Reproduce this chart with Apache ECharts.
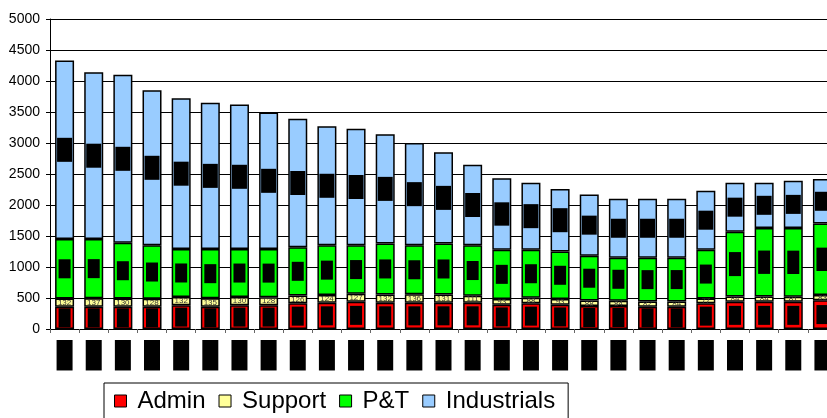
<!DOCTYPE html>
<html>
<head>
<meta charset="utf-8">
<script src="https://cdn.jsdelivr.net/npm/echarts@6/dist/echarts.min.js"></script>
<style>
html,body{margin:0;padding:0;background:#fff;overflow:hidden;}
#c{width:827px;height:418px;}
</style>
</head>
<body>
<div id="c"></div>
<script>
var categories = ['1980','1981','1982','1983','1984','1985','1986','1987','1988','1989','1990','1991','1992','1993','1994','1995','1996','1997','1998','1999','2000','2001','2002','2003','2004','2005','2006'];
var admin = [360,360,360,360,385,360,385,385,415,425,440,425,425,425,425,390,415,390,370,370,360,360,415,440,440,440,465];
var support = [132,137,130,128,132,135,130,128,126,124,127,132,136,131,111,93,88,93,88,84,82,84,77,84,84,81,83];
var pt = [958,953,900,862,773,795,775,777,779,801,783,823,789,824,814,797,777,767,722,696,708,706,788,1046,1106,1109,1152];
var industrials = [2880,2690,2710,2500,2430,2360,2330,2200,2070,1920,1880,1760,1650,1470,1300,1150,1080,1010,990,950,950,950,950,790,730,760,720];
var seriesNames = ['Admin','Support','P&T','Industrials'];
var seriesColors = ['#FF0000','#FFFF99','#00FF00','#99CCFF'];

var chart = echarts.init(document.getElementById('c'), null, {renderer:'canvas'});

function blackLabel(lh, pad) {
  return {
    show: true, position: 'inside', rotate: 90,
    fontFamily: 'Liberation Sans, Arial, sans-serif', fontSize: 9, lineHeight: lh,
    color: '#000', backgroundColor: '#000', padding: pad,
    formatter: function (p) { return String(p.value); }
  };
}

var dataSets = [admin, support, pt, industrials];
var labels = [
  blackLabel(10, [1, 2]),
  { show: true, position: 'inside', fontFamily: 'Liberation Sans, Arial, sans-serif', fontSize: 8, color: '#333', formatter: function (p) { return String(p.value); } },
  blackLabel(10, [1, 2]),
  blackLabel(11, [2, 2])
];

var series = seriesNames.map(function (n, i) {
  return {
    name: n, type: 'bar', stack: 'total', barWidth: 19,
    data: dataSets[i],
    itemStyle: { color: seriesColors[i], borderColor: '#000', borderWidth: 1.5 },
    label: labels[i],
    emphasis: { disabled: true },
    animation: false
  };
});

chart.setOption({
  animation: false,
  backgroundColor: '#fff',
  grid: { left: 50, width: 787, top: 19, bottom: 89, containLabel: false, outerBoundsMode: 'none' },
  legend: {
    data: seriesNames.map(function (n, i) { return { name: n, itemStyle: { color: seriesColors[i], borderColor: '#000', borderWidth: 1 } }; }),
    left: 104, top: 383,
    padding: [4, 13, 10, 10],
    borderColor: '#000', borderWidth: 1,
    itemWidth: 12, itemHeight: 12, itemGap: 13, icon: 'rect',
    textStyle: { fontFamily: 'Liberation Sans, Arial, sans-serif', fontSize: 24, color: '#000', lineHeight: 28, padding: [0, 0, 0, 6] }
  },
  xAxis: {
    type: 'category', data: categories,
    axisLine: { show: true, lineStyle: { color: '#000', width: 1 } },
    axisTick: { show: true, alignWithLabel: false, length: 4, lineStyle: { color: '#666' } },
    axisLabel: {
      interval: 0, rotate: 90, margin: 11,
      fontFamily: 'Liberation Sans, Arial, sans-serif', fontSize: 11, lineHeight: 12,
      color: '#000', backgroundColor: '#000', padding: [2, 3]
    },
    splitLine: { show: false }
  },
  yAxis: {
    type: 'value', min: 0, max: 5000, interval: 500,
    axisLine: { show: true, lineStyle: { color: '#000', width: 1 } },
    axisTick: { show: true, length: 4, lineStyle: { color: '#000' } },
    axisLabel: { margin: 10, fontFamily: 'Liberation Sans, Arial, sans-serif', fontSize: 14, color: '#000',
      formatter: function (v) { return String(v); } },
    splitLine: { show: true, lineStyle: { color: '#000', width: 1 } }
  },
  series: series
});
</script>
</body>
</html>
